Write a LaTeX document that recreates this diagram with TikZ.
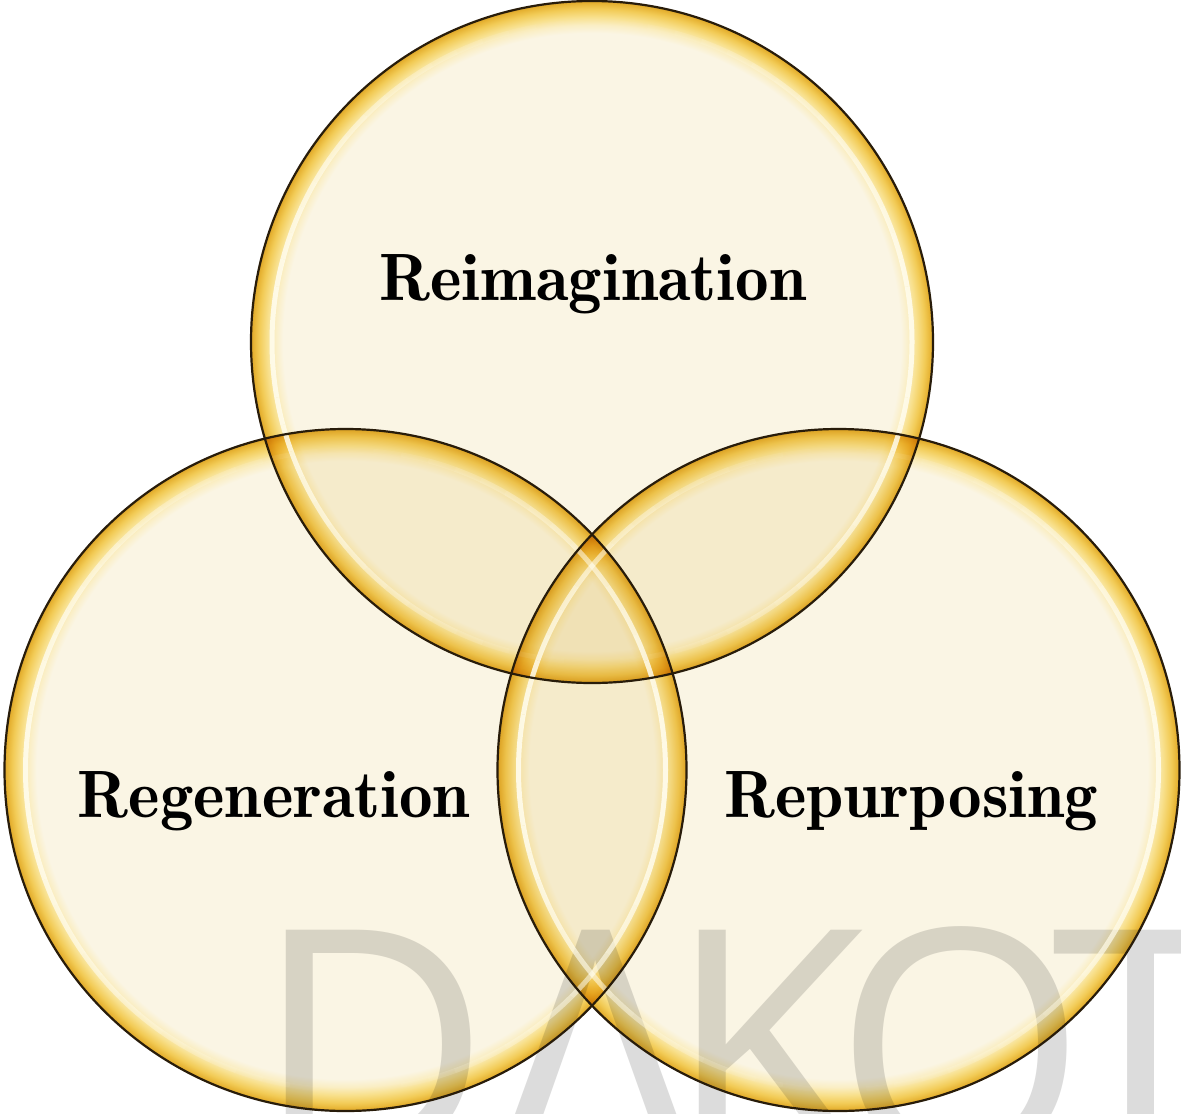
\documentclass[tikz,border=0pt]{standalone}
\usepackage{fontspec}
\setmainfont{Latin Modern Roman}
\newfontfamily\demifont{lmromandemi10-regular}[Extension=.otf]
\newfontfamily\wmfont[LetterSpace=-8]{Open Sans}

\definecolor{cream}{RGB}{250,245,228}
\definecolor{gA}{RGB}{250,238,196}
\definecolor{gB}{RGB}{248,224,140}
\definecolor{gC}{RGB}{242,203,86}
\definecolor{gD}{RGB}{230,178,50}
\definecolor{gE}{RGB}{217,162,42}
\definecolor{glow}{RGB}{242,196,88}
\definecolor{hilite}{RGB}{255,252,236}
\definecolor{rimline}{RGB}{40,28,10}
\definecolor{wmgray}{RGB}{220,220,220}

\pgfdeclareradialshading{bubble}{\pgfpointorigin}{color(0bp)=(cream); color(22.65bp)=(cream); color(23.25bp)=(gA); color(23.83bp)=(gB); color(24.42bp)=(gC); color(24.85bp)=(gD); color(25bp)=(gE); color(50bp)=(gE)}
\pgfdeclareradialshading{bottomglow}{\pgfpoint{0bp}{8bp}}{color(0bp)=(white); color(28.2bp)=(white); color(31.4bp)=(glow); color(50bp)=(glow)}

\begin{document}
\begin{tikzpicture}[x=1pt,y=-1pt,
  lbl/.style={font=\demifont\fontsize{67}{67}\selectfont, anchor=base, inner sep=0pt, text=black},
  wm/.style={font=\wmfont\fontsize{324}{324}\selectfont, anchor=base west, inner sep=0pt, text=wmgray},
  rim/.style={draw=rimline, line width=2.2pt},
  shine/.style={draw=hilite, line width=5pt, line cap=butt}]
\useasboundingbox (0,0) rectangle (1181,1114);
\fill[white] (0,0) rectangle (1181,1114);
\clip (0,0) rectangle (1181,1114);

\coordinate (ctop) at (592,342);
\coordinate (cleft) at (345.5,770);
\coordinate (cright) at (838.5,770);

\node[wm] (wmark) at (254,1161) {D\kern8ptΛKOT};

\begin{scope}[blend mode=multiply]
  \foreach \c in {ctop,cleft,cright}{
    \shade[shading=bubble] (\c) circle[radius=341pt];
    \shade[shading=bottomglow] (\c) circle[radius=341pt];
  }
\end{scope}

\foreach \c in {ctop,cleft,cright}{
  \foreach \a in {0,5,...,355}{
    \pgfmathsetmacro\op{0.92*abs(cos(\a+2.5))^1.6}
    \path[shine, draw opacity=\op] (\c) ++(\a:320pt) arc[start angle=\a, end angle=\a+5, radius=320pt];
  }
}

\foreach \c in {ctop,cleft,cright}{
  \path[rim] (\c) circle[radius=341pt];
}

\node[lbl] (reimag) at (593,300) {Reimagination};
\node[lbl] (regen) at (274,817) {Regeneration};
\node[lbl] (repurp) at (911,817) {Repurposing};
\end{tikzpicture}
\end{document}
